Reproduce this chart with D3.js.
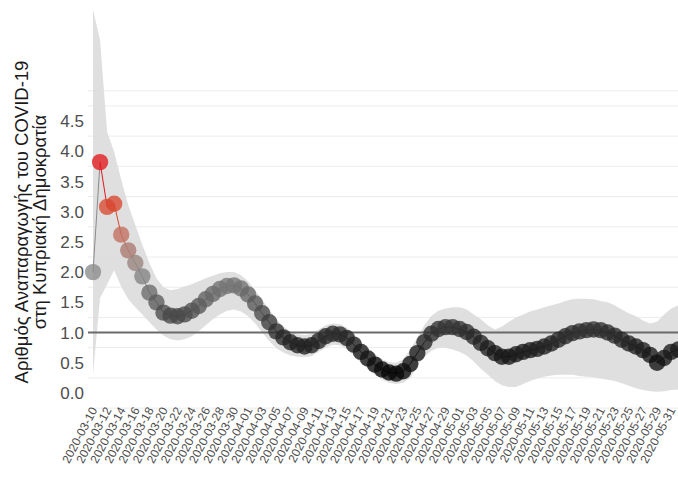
<!DOCTYPE html>
<html lang="el">
  <head>
    <meta charset="utf-8">
    <title>Rt Κύπρος</title>
    <script src="https://d3js.org/d3.v7.min.js"></script>
    <style>
      body { margin: 0; background: #fff; }
      text { font-family: "Liberation Sans", Arial, sans-serif; }
    </style>
  </head>
  <body>
    <div id="chart"></div>
    <script>

// first day of the series, then one value per day
var startDate = "2020-03-10";

// R estimate (points)
var rValues = [2.00, 3.82, 3.08, 3.13, 2.62, 2.36, 2.15, 1.93, 1.66, 1.50,
               1.33, 1.28, 1.27, 1.30, 1.36, 1.44, 1.55, 1.64, 1.72, 1.77,
               1.78, 1.73, 1.63, 1.48, 1.32, 1.17, 1.02, 0.92, 0.84, 0.79,
               0.77, 0.79, 0.86, 0.94, 0.98, 0.97, 0.91, 0.80, 0.68, 0.57,
               0.47, 0.39, 0.34, 0.32, 0.36, 0.48, 0.66, 0.84, 0.98, 1.06,
               1.09, 1.09, 1.06, 1.01, 0.93, 0.83, 0.74, 0.66, 0.60, 0.60,
               0.64, 0.68, 0.71, 0.73, 0.77, 0.82, 0.88, 0.94, 0.99, 1.02,
               1.04, 1.05, 1.04, 1.00, 0.95, 0.88, 0.82, 0.77, 0.71, 0.63,
               0.50, 0.58, 0.68, 0.72];

// upper bound of the interval
var rUpper = [6.34, 5.84, 4.32, 3.99, 3.53, 3.11, 2.78, 2.45, 2.15, 1.90,
              1.75, 1.70, 1.72, 1.76, 1.80, 1.85, 1.90, 1.94, 1.98, 2.00,
              2.00, 1.95, 1.85, 1.70, 1.54, 1.38, 1.22, 1.10, 1.02, 0.97,
              0.96, 0.98, 1.05, 1.12, 1.15, 1.14, 1.08, 0.97, 0.85, 0.74,
              0.64, 0.56, 0.51, 0.50, 0.56, 0.72, 0.92, 1.12, 1.28, 1.36,
              1.40, 1.42, 1.42, 1.38, 1.30, 1.22, 1.12, 1.05, 1.10, 1.18,
              1.25, 1.30, 1.35, 1.38, 1.42, 1.45, 1.48, 1.52, 1.55, 1.56,
              1.56, 1.55, 1.52, 1.50, 1.45, 1.38, 1.32, 1.27, 1.20, 1.15,
              1.18, 1.30, 1.40, 1.45];

// lower bound of the interval
var rLower = [0.30, 1.57, 1.80, 2.03, 1.76, 1.55, 1.42, 1.30, 1.17, 1.05,
              0.95, 0.89, 0.87, 0.89, 0.94, 1.02, 1.12, 1.22, 1.30, 1.36,
              1.38, 1.35, 1.27, 1.15, 1.00, 0.86, 0.74, 0.67, 0.62, 0.60,
              0.59, 0.61, 0.68, 0.75, 0.80, 0.79, 0.73, 0.62, 0.50, 0.40,
              0.30, 0.22, 0.17, 0.15, 0.17, 0.25, 0.45, 0.60, 0.70, 0.75,
              0.75, 0.72, 0.68, 0.62, 0.52, 0.40, 0.30, 0.20, 0.13, 0.10,
              0.10, 0.15, 0.20, 0.24, 0.27, 0.29, 0.30, 0.30, 0.30, 0.28,
              0.27, 0.26, 0.24, 0.22, 0.20, 0.16, 0.12, 0.08, 0.05, 0.03,
              0.02, 0.03, 0.05, 0.06];

var yTicks = [0, 0.5, 1, 1.5, 2, 2.5, 3, 3.5, 4, 4.5];
var yGrid = [-0.25, 0.25, 0.75, 1.25, 1.75, 2.25, 2.75, 3.25, 3.75, 4.25, 4.75, 5.0];
var yTitle = ["Αριθμός Αναπαραγωγής του COVID-19", "στη Κυπριακή Δημοκρατία"];

var parseDate = d3.timeParse("%Y-%m-%d");
var fmt = d3.timeFormat("%Y-%m-%d");
var day0 = parseDate(startDate);

var data = rValues.map(function(v, i) {
  return { date: d3.timeDay.offset(day0, i), r: v, hi: rUpper[i], lo: rLower[i] };
});

var w = 678, h = 477;
var plotLeft = 88;

var xScale = d3.scaleTime()
    .domain([day0, d3.timeDay.offset(day0, 83)])
    .range([93, 678.2]);

var yScale = d3.scaleLinear()
    .domain([0, 4.5])
    .range([393, 121]);

var color = d3.scaleLinear()
    .domain([0.3, 1.0, 2.0, 2.6, 3.1, 3.9])
    .range(["#050505", "#2c2c2c", "#8a8a8a", "#c0705f", "#d9482f", "#e3141c"]);

var svg = d3.select("#chart").append("svg")
    .attr("width", w)
    .attr("height", h);

// grid
svg.append("g").selectAll("line")
    .data(yGrid)
    .enter().append("line")
    .attr("x1", plotLeft).attr("x2", w)
    .attr("y1", d => yScale(d)).attr("y2", d => yScale(d))
    .attr("stroke", "#ececec")
    .attr("stroke-width", 1);

// interval ribbon
var area = d3.area()
    .x(d => xScale(d.date))
    .y0(d => yScale(d.lo))
    .y1(d => yScale(d.hi));

svg.append("path")
    .datum(data)
    .attr("d", area)
    .attr("fill", "#dcdcdc")
    .attr("opacity", 0.9);

// reference line at R = 1
svg.append("line")
    .attr("x1", plotLeft).attr("x2", w)
    .attr("y1", yScale(1)).attr("y2", yScale(1))
    .attr("stroke", "#6a6a6a")
    .attr("stroke-width", 2);

// path segments, coloured by the start point
svg.append("g").selectAll("line")
    .data(data.slice(0, -1))
    .enter().append("line")
    .attr("x1", d => xScale(d.date))
    .attr("y1", d => yScale(d.r))
    .attr("x2", (d, i) => xScale(data[i + 1].date))
    .attr("y2", (d, i) => yScale(data[i + 1].r))
    .attr("stroke", d => color(d.r))
    .attr("stroke-width", 1);

// points
svg.append("g").selectAll("circle")
    .data(data)
    .enter().append("circle")
    .attr("cx", d => xScale(d.date))
    .attr("cy", d => yScale(d.r))
    .attr("r", 8.2)
    .attr("fill", d => color(d.r))
    .attr("fill-opacity", 0.78);

// y tick labels
svg.append("g").selectAll("text")
    .data(yTicks)
    .enter().append("text")
    .attr("x", 84)
    .attr("y", d => yScale(d))
    .attr("dy", "0.36em")
    .attr("text-anchor", "end")
    .attr("font-size", 17)
    .attr("fill", "#4d4d4d")
    .text(d => d3.format(".1f")(d));

// x tick labels, every second day
var xTicks = data.filter((d, i) => i % 2 === 0).map(d => d.date);
svg.append("g").selectAll("text")
    .data(xTicks)
    .enter().append("text")
    .attr("transform", d => `translate(${xScale(d) + 1}, 408) rotate(-62)`)
    .attr("dy", "0.35em")
    .attr("text-anchor", "end")
    .attr("font-size", 12)
    .attr("fill", "#4d4d4d")
    .text(d => fmt(d));

// y axis title
svg.append("g").selectAll("text")
    .data(yTitle)
    .enter().append("text")
    .attr("transform", (d, i) => `translate(${28 + i * 18}, 222) rotate(-90)`)
    .attr("text-anchor", "middle")
    .attr("font-size", 18.5)
    .attr("fill", "#1a1a1a")
    .text(d => d);

    </script>
  </body>
</html>
